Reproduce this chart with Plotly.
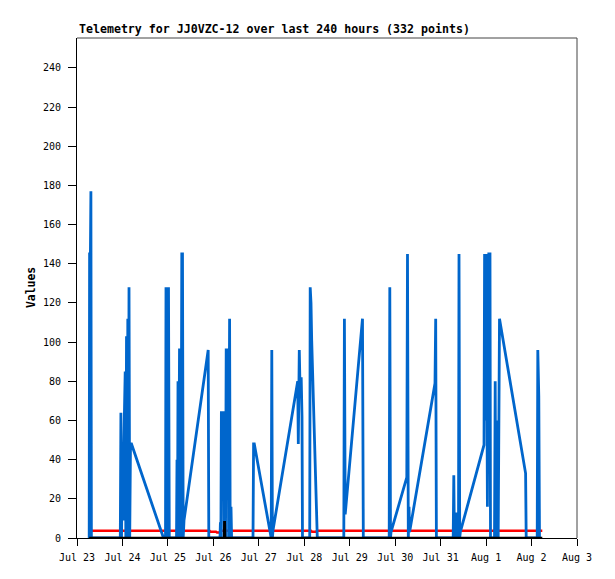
import plotly.graph_objects as go
import pandas as pd

# hours after Jul 23 00:00 and the value at that moment
start = pd.Timestamp("2023-07-23 00:00")

blue_hours = [6.44, 6.65, 7.08, 7.34, 7.60,
              22.86, 23.18, 23.50, 23.87, 24.29, 24.71, 25.08, 25.45, 25.77, 26.14, 26.51,
              26.82, 27.14, 27.46, 27.83, 28.25, 28.78, 45.67,
              46.73, 46.99, 47.52, 47.78, 48.31, 48.73, 52.54, 52.80, 53.06, 53.33, 53.64,
              54.12, 54.65, 54.91, 55.33, 55.70, 56.07, 56.50, 69.27, 69.59,
              75.50, 75.72, 75.98, 76.24, 77.35, 77.62, 78.04, 78.41, 78.78, 79.73, 80.04,
              80.57, 80.89, 81.31, 81.63,
              92.93, 93.24, 93.61, 102.54, 102.85, 103.17, 103.49, 116.53, 116.85, 117.37,
              117.85, 118.38, 118.80, 119.06,
              122.87, 123.13, 123.55, 123.92, 124.45, 124.98, 125.66, 126.46, 126.88,
              140.87, 141.19, 141.61, 150.74, 151.17,
              164.84, 165.16, 165.53, 165.79, 174.13, 174.50, 174.93, 175.30, 175.61,
              189.02, 189.39, 189.76,
              198.63, 198.95, 199.27, 200.27, 200.53, 200.80, 201.43, 201.70, 202.07, 202.38,
              214.90, 215.21, 215.58, 215.95, 216.37, 216.69, 217.11, 217.43, 218.06, 218.33,
              220.44, 220.81, 221.13, 221.44, 221.76, 222.08, 222.39, 222.76, 223.08,
              236.86, 237.18, 242.99, 243.30, 243.83, 244.20]
blue_vals = [0, 145, 145, 177, 0,
             0, 64, 0, 32, 9, 47, 65, 85, 0, 103, 0,
             112, 0, 128, 0, 48, 48, 0,
             0, 128, 84, 0, 128, 0, 0, 40, 0, 80, 0,
             96, 96, 0, 145, 145, 0, 9, 96, 0,
             0, 8, 0, 64, 64, 0, 56, 0, 96, 96, 0,
             112, 0, 16, 0,
             0, 48, 48, 0, 96, 0, 4, 80, 48, 96,
             72, 82, 62, 0,
             0, 128, 120, 101, 82, 64, 33, 9, 0,
             0, 112, 12, 112, 0,
             0, 128, 0, 3, 31, 145, 0, 16, 3,
             79, 112, 0,
             0, 32, 0, 0, 13, 0, 0, 145, 0, 3,
             47.5, 145, 60, 145, 96, 16, 96, 145, 145, 0,
             0, 80, 0, 60, 0, 21, 0, 112, 112,
             33, 0, 0, 96, 72, 0]

red_hours = [6.44, 23.23, 23.76, 25.87, 26.40, 69.96, 70.49, 73.39, 73.92, 75.24, 75.66,
             123.55, 124.08, 126.19, 126.72, 245.68]
red_vals = [3.7, 3.7, 3.4, 3.4, 3.7, 3.7, 3.2, 3.2, 2.8, 2.8, 3.7,
            3.7, 3.2, 3.2, 3.7, 3.7]

black_hours = [6.44, 77.70, 77.85, 78.00, 78.15, 245.68]
black_vals = [0, 0, 8, 8, 0, 0]

title_text = "Telemetry for JJ0VZC-12 over last 240 hours (332 points)"


def to_time(hours):
    return [start + pd.Timedelta(hours=h) for h in hours]


fig = go.Figure()

# red first, blue over it, black on top
fig.add_trace(go.Scatter(x=to_time(red_hours), y=red_vals, mode="lines",
                         line=dict(color="#ff0000", width=2.4), showlegend=False))
fig.add_trace(go.Scatter(x=to_time(blue_hours), y=blue_vals, mode="lines",
                         line=dict(color="#0066cc", width=2.8), showlegend=False))
fig.add_trace(go.Scatter(x=to_time(black_hours), y=black_vals, mode="lines",
                         line=dict(color="#000000", width=2.6), showlegend=False))

mono = "DejaVu Sans Mono"

# the page body has an 8px margin, so the figure is 8px smaller and shifted
fig.update_layout(
    width=607, height=571,
    margin=dict(l=69, r=38, t=30, b=41),
    plot_bgcolor="white", paper_bgcolor="white",
    font=dict(family=mono, size=10, color="black"),
    xaxis=dict(type="date", range=["2023-07-23", "2023-08-03"],
               dtick=86400000, tickformat="%b %-d",
               showgrid=False, zeroline=False,
               showline=True, linecolor="black", linewidth=1,
               ticks="outside", ticklen=7, tickcolor="black",
               ticklabelstandoff=3),
    yaxis=dict(range=[0, 255.3], dtick=20, tick0=0,
               showgrid=False, zeroline=False,
               showline=True, linecolor="black", linewidth=1,
               ticks="outside", ticklen=8, tickcolor="black",
               ticklabelstandoff=5),
    shapes=[
        dict(type="line", xref="paper", yref="paper", x0=0, x1=1, y0=1, y1=1,
             line=dict(color="#444444", width=1)),
        dict(type="line", xref="paper", yref="paper", x0=1, x1=1, y0=0, y1=1,
             line=dict(color="#444444", width=1)),
    ],
    annotations=[
        dict(text="<b>" + title_text + "</b>", xref="paper", yref="paper",
             x=0, y=1, xanchor="left", yanchor="bottom", yshift=0,
             showarrow=False, font=dict(family=mono, size=11.6, color="black")),
        dict(text="<b>Values</b>", xref="paper", yref="paper",
             x=0, y=0.5, xanchor="center", yanchor="middle", xshift=-46,
             textangle=-90, showarrow=False,
             font=dict(family=mono, size=11.4, color="black")),
    ],
)

fig.write_html("out.html")
